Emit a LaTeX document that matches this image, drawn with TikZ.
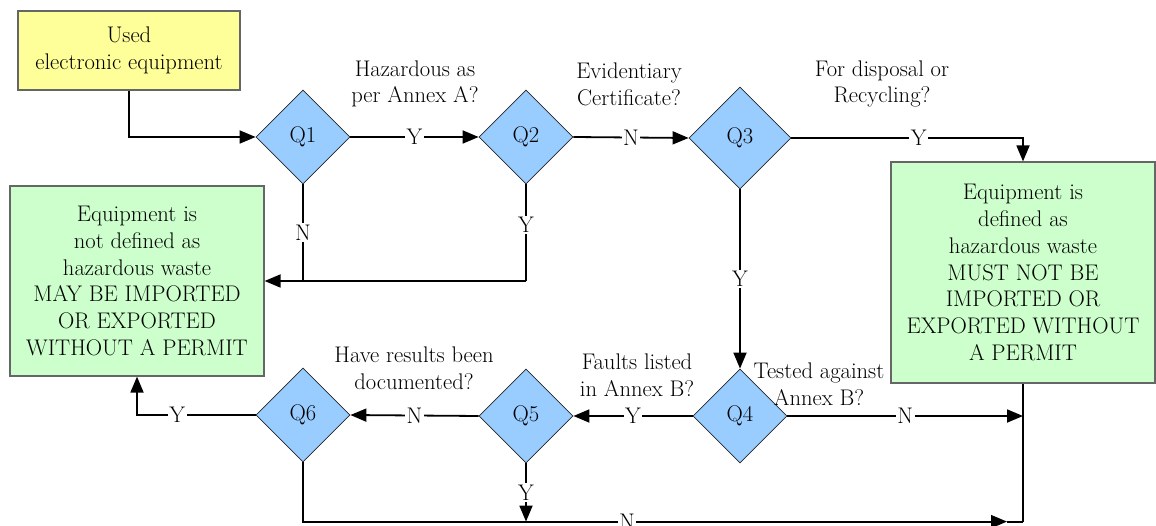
\documentclass[tikz,border=0pt]{standalone}
\usepackage{fontspec}
\usetikzlibrary{shapes.geometric,arrows.meta,calc}

\definecolor{qblue}{HTML}{99CCFF}
\definecolor{okgreen}{HTML}{CCFFCC}
\definecolor{startyellow}{HTML}{FFFF99}

\begin{document}
\begin{tikzpicture}[x=1pt,y=-1pt,
  every node/.style={font=\rmfamily\fontsize{22.6}{26.7}\selectfont},
  question/.style={diamond, draw=black!85, line width=0.8pt, fill=qblue,
    minimum width=94pt, minimum height=94pt, inner sep=0pt},
  panel/.style={rectangle, draw=black!60, line width=1.2pt, align=center, inner sep=0pt},
  flow/.style={line width=1.8pt, -{Triangle[length=16pt,width=13pt]}},
  plain/.style={line width=1.8pt},
  lbl/.style={fill=white, inner sep=1.5pt},
  ask/.style={align=center, inner sep=0pt}]

\useasboundingbox (0,0) rectangle (1156,526);

% start and outcome boxes
\node[panel, fill=startyellow, minimum width=222pt, minimum height=79pt] (used) at (129,50.5)
  {Used\\electronic equipment};
\node[panel, fill=okgreen, minimum width=254pt, minimum height=190pt] (nd) at (137,281)
  {Equipment is\\not defined as\\hazardous waste\\MAY BE IMPORTED\\OR EXPORTED\\WITHOUT A PERMIT};
\node[panel, fill=okgreen, minimum width=264pt, minimum height=221pt] (mb) at (1023,272.5)
  {Equipment is\\defined as\\hazardous waste\\MUST NOT BE\\IMPORTED OR\\EXPORTED WITHOUT\\A PERMIT};

% decision diamonds
\node[question] (q1) at (303,137) {Q1};
\node[question] (q2) at (526,137) {Q2};
\node[question, minimum width=102pt, minimum height=102pt] (q3) at (740,138) {Q3};
\node[question] (q4) at (740,416) {Q4};
\node[question] (q5) at (526,416) {Q5};
\node[question] (q6) at (303,415) {Q6};

% question texts
\node[ask] (t1) at (415,84) {Hazardous as\\per Annex A?};
\node[ask] (t2) at (629,84) {Evidentiary\\Certificate?};
\node[ask] (t3) at (882,84) {For disposal or\\Recycling?};
\node[ask] (t4) at (819,384) {Tested against\\Annex B?};
\node[ask] (t5) at (637,375) {Faults listed\\in Annex B?};
\node[ask] (t6) at (414,368) {Have results been\\documented?};

% helper points on the collecting lines
\coordinate (bot) at ($(mb.south)+(0,138)$);
\coordinate (nend) at ($(bot)+(-16,0)$);

% connectors
\draw[flow] (used.south) |- (q1.west);
\draw[flow] (q1.east) -- node[lbl]{Y} (q2.west);
\draw[flow] (q2.east) -- node[lbl]{N} (q3.west);
\draw[flow] (q3.east) -| node[lbl, pos=0.275]{Y} (mb.north);
\draw[plain] (q1.south) -- node[lbl]{N} (q1.south |- nd.east);
\draw[plain] (q2.south) -- node[lbl, pos=0.42]{Y} (q2.south |- nd.east);
\draw[flow] (q2.south |- nd.east) -- (nd.east);
\draw[flow] (q3.south) -- node[lbl]{Y} (q4.north);
\draw[flow] (q4.west) -- node[lbl]{Y} (q5.east);
\draw[flow] (q4.east) -- node[lbl]{N} (q4.east -| mb.south);
\draw[flow] (q5.west) -- node[lbl]{N} (q6.east);
\draw[flow] (q6.west) -| node[lbl, pos=0.33]{Y} (nd.south);
\draw[flow] (q5.south) -- node[lbl]{Y} (q5.south |- bot);
\draw[flow] (q6.south) |- node[lbl, pos=0.73]{N} (nend);
\draw[plain] (nend) -- (bot);
\draw[plain] (mb.south) -- (bot);
\end{tikzpicture}
\end{document}
